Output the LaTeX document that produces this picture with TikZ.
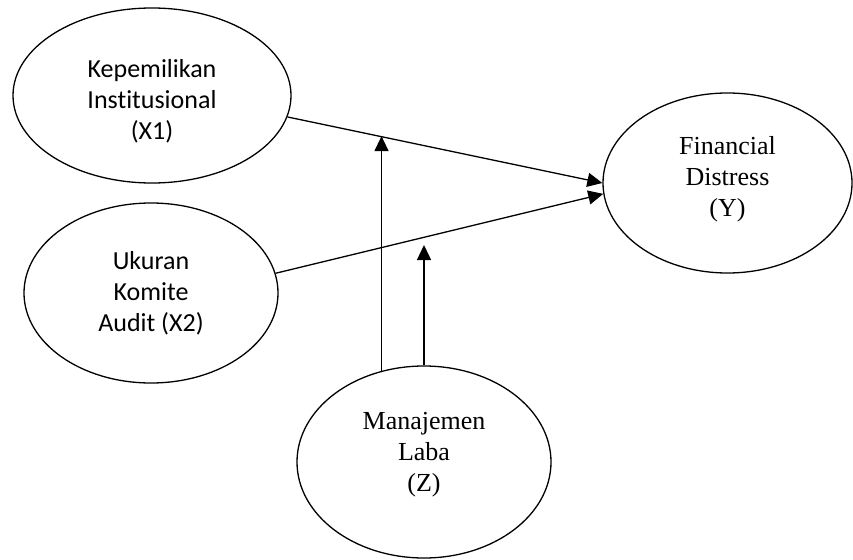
\documentclass[tikz,border=0pt]{standalone}
\usepackage{fontspec}
\setmainfont{Liberation Serif}
\newfontfamily\calibri[Ligatures=NoCommon]{Carlito}
\usetikzlibrary{arrows.meta,shapes.geometric}

\tikzset{
    var/.style={ellipse,draw,line width=1.3pt,inner sep=0pt},
    sanslabel/.style={align=center,font=\calibri\fontsize{26}{31}\selectfont},
    seriflabel/.style={align=center,font=\fontsize{26}{31}\selectfont}
}

\begin{document}
\begin{tikzpicture}[x=1pt,y=-1pt]
    \useasboundingbox (0,0) rectangle (853,559);
    \begin{scope}[every node/.style={var}]
        \node(x1) at (152,95.5) [minimum width=278pt,minimum height=175pt,
            label={[sanslabel,yshift=-6pt]center:Kepemilikan\\Institusional\\(X1)}] {};
        \node(x2) at (151,293) [minimum width=254pt,minimum height=180pt,
            label={[sanslabel]center:Ukuran\\Komite\\Audit (X2)}] {};
        \node(y) at (727.5,183) [minimum width=249pt,minimum height=180pt,
            label={[seriflabel,yshift=3.5pt]center:Financial\\Distress\\(Y)}] {};
        \node(z) at (424,462) [minimum width=254pt,minimum height=192pt,
            label={[seriflabel,yshift=7pt]center:Manajemen\\Laba\\(Z)}] {};
    \end{scope}
    \coordinate (tip2) at (423,245);
    %Lines
    \begin{scope}[>={Triangle[length=15pt,width=14pt]}, line width=1.3pt]
        \draw[->] (x1.-9) -- coordinate[pos=0.29] (m1) (y.west);
        \draw[->] (x2.9) -- (y.185);
        \draw[->] (z.115) -- (z.115 |- m1);
        \draw[->] (z.north) -- (z.north |- tip2);
    \end{scope}
\end{tikzpicture}
\end{document}
